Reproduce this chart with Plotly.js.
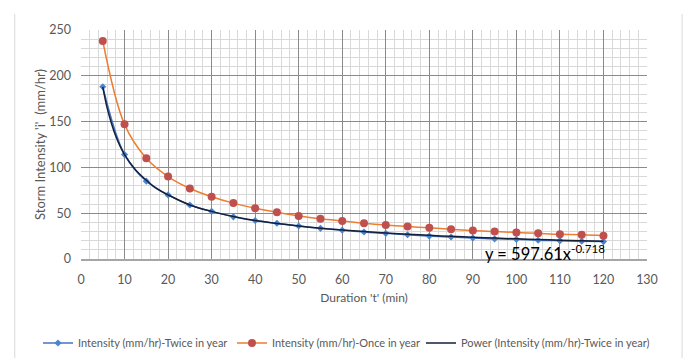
<!DOCTYPE html>
<html>
<head>
<meta charset="utf-8">
<script src="https://cdn.plot.ly/plotly-3.0.1.min.js"></script>
<style>
html,body{margin:0;padding:0;background:#fff;}
#chart{width:685px;height:358px;}
</style>
</head>
<body>
<div id="chart"></div>
<script>
// Data
const duration = [5,10,15,20,25,30,35,40,45,50,55,60,65,70,75,80,85,90,95,100,105,110,115,120];
const twiceInYear = [188,114,85,70,59,52,46,42,39,36,33.5,31.5,29.5,28,26.5,25,24,23,22,21.5,20.5,20,19.5,19];
const onceInYear = [238,147,110,90,77,68,61,55.5,51,47,44,41.5,39,37,35.5,34,32.5,31,30,29,28,27,26.5,25.5];
const trendX = [5,6,7,8,9,10,12.5,15,17.5,20,25,30,35,40,45,50,55,60,65,70,75,80,85,90,95,100,105,110,115,120];
const trendY = [188,165,148,134,123,114,97.5,86,76.5,70,59,52,46.5,42,38.8,36,33.6,31.6,29.9,28.3,27,25.8,24.7,23.7,22.8,22,21.3,20.6,20,19.3];
const xTitle = "Duration 't' (min)";
const yTitle = "Storm Intensity 'i'  (mm/hr)";
const eqText = "y = 597.61x<sup>-0.718</sup>";
const names = ["Intensity (mm/hr)-Twice in year","Intensity (mm/hr)-Once in year","Power (Intensity (mm/hr)-Twice in year)"];

const FONT = "Lato, 'DejaVu Sans Condensed', Arial, sans-serif";

const traces = [
  {x: duration, y: twiceInYear, name: names[0], type:'scatter', mode:'lines+markers', legend:'legend',
   line:{color:'#4472C4', width:1.5, shape:'spline'},
   marker:{symbol:'diamond', size:5.5, color:'#4A86D0'}},
  {x: duration, y: onceInYear, name: names[1], type:'scatter', mode:'lines+markers', legend:'legend2',
   line:{color:'#ED7D31', width:1.5, shape:'spline'},
   marker:{symbol:'circle', size:8, color:'#C0504D'}},
  {x: trendX, y: trendY, name: names[2], type:'scatter', mode:'lines', legend:'legend3',
   line:{color:'#14203A', width:1.5, shape:'spline'}}
];

function leg(px){
  return {orientation:'h', xref:'container', yref:'container', x:px/685, xanchor:'left', y:1-343/358, yanchor:'middle',
          font:{family:FONT, size:11, color:'#595959'}, bgcolor:'rgba(0,0,0,0)', borderwidth:0};
}

const layout = {
  width:685, height:358,
  margin:{l:81, r:38, t:30, b:99},
  paper_bgcolor:'#fff', plot_bgcolor:'#fff',
  font:{family:FONT, color:'#595959', size:12},
  showlegend:true,
  legend: leg(38), legend2: leg(232), legend3: leg(421),
  xaxis:{range:[0,130], dtick:10, tick0:0, showgrid:true, gridcolor:'#8a8a8a', gridwidth:1,
         minor:{dtick:2, showgrid:true, gridcolor:'#d9d9d9', gridwidth:1},
         zeroline:false, showline:true, linecolor:'#a6a6a6', linewidth:1.5, mirror:false,
         ticks:'', ticklabelstandoff:8, tickfont:{family:FONT, size:12.5, color:'#595959'},
         title:{text:xTitle, font:{family:FONT, size:12, color:'#595959'}, standoff:8}},
  yaxis:{range:[0,250], dtick:50, tick0:0, showgrid:true, gridcolor:'#8a8a8a', gridwidth:1,
         minor:{dtick:10, showgrid:true, gridcolor:'#d9d9d9', gridwidth:1},
         zeroline:false, showline:false, ticks:'', ticklabelstandoff:9,
         tickfont:{family:FONT, size:12.5, color:'#595959'},
         title:{text:yTitle, font:{family:FONT, size:13, color:'#595959'}, standoff:0}},
  annotations:[{x:92.3, y:7, xref:'x', yref:'y', text:eqText, showarrow:false,
                xanchor:'left', yanchor:'middle', font:{family:FONT, size:16.5, color:'#000'}}],
  shapes:[
    {type:'line', xref:'paper', yref:'paper', x0:-0.117, x1:-0.117, y0:-0.5, y1:1.07, line:{color:'#d9d9d9', width:1}},
    {type:'line', xref:'paper', yref:'paper', x0:1.062, x1:1.062, y0:-0.5, y1:1.07, line:{color:'#d9d9d9', width:1}}
  ]
};

Plotly.newPlot('chart', traces, layout, {displayModeBar:false, staticPlot:true});
</script>
</body>
</html>
